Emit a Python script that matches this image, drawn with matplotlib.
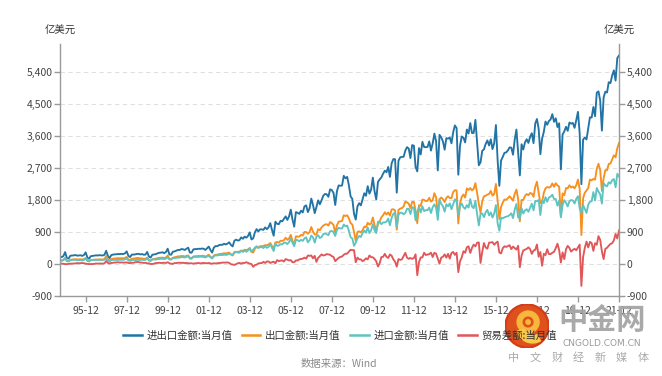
import numpy as np
import pandas as pd
import matplotlib
matplotlib.use("Agg")
import matplotlib.pyplot as plt
from matplotlib.patches import Circle, Wedge
from matplotlib.lines import Line2D

plt.rcParams['font.family'] = ['Noto Sans CJK SC', 'DejaVu Sans']

# ---- data (亿美元), monthly 1994-09 .. 2021-12 ----
start_month = "1994-09"
exports = [
    108, 102, 115, 165,
    82, 78, 120, 124, 127, 135, 130, 130, 135, 127, 138, 168,
    95, 72, 110, 113, 120, 128, 125, 130, 128, 125, 138, 226,
    130, 90, 140, 150, 155, 160, 165, 160, 165, 160, 170, 200,
    130, 110, 150, 150, 160, 170, 170, 155, 160, 145, 150, 180,
    115, 90, 130, 140, 150, 165, 175, 175, 180, 170, 185, 240,
    145, 135, 175, 190, 200, 215, 215, 225, 225, 210, 230, 240,
    170, 170, 210, 220, 220, 230, 220, 230, 230, 210, 230, 260,
    205, 165, 240, 260, 260, 280, 285, 290, 305, 295, 310, 320,
    265, 240, 315, 340, 340, 350, 380, 370, 400, 395, 410, 450,
    345, 320, 430, 480, 465, 500, 500, 510, 530, 525, 550, 590,
    505, 430, 605, 620, 600, 655, 650, 670, 740, 680, 720, 820,
    650, 550, 780, 770, 770, 820, 800, 900, 900, 850, 900, 1040,
    910, 830, 830, 980, 950, 1030, 1080, 1110, 1120, 1080, 1180, 1150,
    1100, 870, 1090, 1190, 1200, 1210, 1370, 1350, 1370, 1280, 1150, 1110,
    900, 650, 900, 920, 890, 950, 1050, 1040, 1160, 1110, 1140, 1310,
    1095, 945, 1120, 1200, 1315, 1370, 1455, 1392, 1450, 1360, 1532, 1541,
    1507, 967, 1522, 1557, 1572, 1619, 1752, 1733, 1696, 1575, 1745, 1747,
    1500, 1145, 1657, 1633, 1812, 1804, 1769, 1780, 1863, 1755, 1793, 1992,
    1873, 1393, 1821, 1871, 1827, 1743, 1860, 1906, 1856, 1853, 2022, 2077,
    2071, 1141, 1701, 1886, 1955, 1868, 2127, 2084, 2137, 2069, 2117, 2275,
    2001, 1692, 1445, 1763, 1907, 1921, 1953, 1968, 2056, 1924, 1969, 2252,
    1774, 1263, 1602, 1728, 1813, 1809, 1850, 1905, 1846, 1782, 1974, 2094,
    1827, 1201, 1803, 1800, 1912, 1968, 1937, 1998, 1982, 1890, 2173, 2314,
    2003, 1714, 1738, 2000, 2128, 2166, 2151, 2173, 2266, 2171, 2273, 2212,
    2175, 1352, 1986, 1934, 2138, 2128, 2215, 2148, 2182, 2129, 2217, 2375,
    2110, 815, 1851, 2004, 2067, 2137, 2375, 2354, 2393, 2371, 2680, 2820,
    2640, 2053, 2412, 2638, 2639, 2815, 2827, 2943, 3057, 3002, 3255, 3405,
]
imports = [
    96, 92, 108, 170,
    85, 75, 110, 115, 115, 118, 105, 110, 110, 100, 115, 160,
    90, 75, 110, 115, 115, 115, 115, 118, 115, 115, 120, 145,
    100, 75, 110, 115, 115, 115, 115, 120, 120, 120, 130, 155,
    100, 85, 115, 115, 110, 115, 115, 115, 120, 115, 115, 160,
    95, 90, 130, 130, 125, 135, 140, 145, 150, 135, 155, 190,
    125, 125, 170, 165, 175, 180, 180, 195, 190, 185, 200, 220,
    150, 150, 200, 200, 200, 200, 205, 205, 200, 185, 210, 230,
    190, 155, 220, 245, 240, 250, 255, 250, 265, 255, 265, 290,
    270, 255, 340, 345, 320, 320, 370, 340, 370, 345, 380, 440,
    345, 400, 460, 500, 450, 475, 475, 450, 500, 455, 480, 560,
    455, 365, 585, 510, 520, 560, 550, 600, 600, 560, 620, 710,
    600, 500, 680, 670, 640, 680, 650, 720, 750, 610, 670, 800,
    750, 600, 770, 810, 730, 760, 840, 860, 840, 810, 920, 930,
    900, 790, 960, 1020, 1000, 1000, 1110, 1060, 1080, 930, 750, 720,
    510, 600, 720, 790, 760, 870, 940, 880, 1030, 870, 950, 1120,
    950, 870, 1190, 1180, 1120, 1170, 1170, 1190, 1280, 1090, 1300, 1410,
    1442, 1040, 1382, 1443, 1441, 1397, 1437, 1555, 1551, 1405, 1600, 1582,
    1228, 1460, 1604, 1449, 1624, 1487, 1517, 1513, 1586, 1435, 1597, 1676,
    1581, 1240, 1812, 1690, 1624, 1472, 1681, 1620, 1704, 1542, 1684, 1821,
    1753, 1371, 1624, 1702, 1596, 1552, 1656, 1586, 1827, 1615, 1571, 1780,
    1401, 1085, 1415, 1422, 1317, 1456, 1523, 1366, 1452, 1308, 1428, 1658,
    1144, 937, 1306, 1285, 1314, 1329, 1346, 1376, 1427, 1292, 1528, 1688,
    1313, 1292, 1566, 1420, 1509, 1542, 1469, 1580, 1697, 1510, 1776, 1765,
    1800, 1376, 1787, 1713, 1879, 1751, 1871, 1895, 1949, 1828, 1826, 1641,
    1784, 1311, 1660, 1796, 1722, 1618, 1764, 1800, 1786, 1701, 1830, 1907,
    1565, 1430, 1653, 1550, 1437, 1671, 1752, 1765, 2023, 1786, 2139, 2036,
    1960, 1700, 2274, 2210, 2184, 2300, 2261, 2360, 2390, 2157, 2538, 2460,
]
series_names = ["进出口金额:当月值", "出口金额:当月值", "进口金额:当月值", "贸易差额:当月值"]
series_colors = ["#2274a5", "#f7901e", "#5ec4c1", "#e15759"]
tick_labels = ["95-12", "97-12", "99-12", "01-12", "03-12", "05-12", "07-12",
               "09-12", "11-12", "13-12", "15-12", "17-12", "19-12", "21-12"]
y_ticks = [-900, 0, 900, 1800, 2700, 3600, 4500, 5400]
unit = "亿美元"
source = "数据来源：Wind"
wm_title = "中金网"
wm_url = "CNGOLD.COM.CN"
wm_slogan = ["中", "文", "财", "经", "新", "媒", "体"]

exp_arr = np.array(exports, dtype=float)
imp_arr = np.array(imports, dtype=float)
total = exp_arr + imp_arr          # 进出口 = 出口 + 进口
balance = exp_arr - imp_arr        # 贸易差额 = 出口 - 进口
months = pd.period_range(start=start_month, periods=len(exports), freq="M")
labels_all = [f"{p.year % 100:02d}-{p.month:02d}" for p in months]
x = np.arange(len(months))
tick_pos = [labels_all.index(t) for t in tick_labels]

W, H = 662, 376
fig = plt.figure(figsize=(W / 100, H / 100), dpi=100)
ax = fig.add_axes([60 / W, 80 / H, 559 / W, 252.4 / H])

for vals, name, col in zip([total, exp_arr, imp_arr, balance], series_names, series_colors):
    ax.plot(x, vals, color=col, lw=1.35, label=name, solid_joinstyle="round")

ax.set_xlim(0, len(x) - 1)
ax.set_ylim(-900, 6200)
ax.set_yticks(y_ticks)
ax.set_yticklabels([f"{v:,}" for v in y_ticks])
ax.set_xticks(tick_pos)
ax.set_xticklabels(tick_labels)

ax.grid(axis="y", color="#e0e0e0", linestyle=(0, (4, 3)), lw=0.8)
ax.set_axisbelow(True)
for s in ["left", "right", "bottom"]:
    ax.spines[s].set_color("#9a9a9a")
    ax.spines[s].set_linewidth(1.0)
ax.spines["top"].set_visible(False)

ax.yaxis.set_ticks_position("both")
ax.tick_params(axis="y", which="both", direction="out", length=4, width=1,
               color="#9a9a9a", labelleft=True, labelright=True,
               labelsize=7.5, labelcolor="#444444", pad=1.5)
ax.tick_params(axis="x", direction="out", length=4, width=1, color="#9a9a9a",
               labelsize=7.5, labelcolor="#444444", pad=3)

fig.text(60 / W, 1 - 31 / H, unit, ha="center", va="center", fontsize=7.5, color="#333333")
fig.text(619 / W, 1 - 31 / H, unit, ha="center", va="center", fontsize=7.5, color="#333333")

handles = [Line2D([0], [0], color=c, lw=1.8) for c in series_colors]
fig.legend(handles, series_names, loc="center", bbox_to_anchor=(340 / W, 1 - 336 / H),
           ncol=4, frameon=False, fontsize=7.5, handlelength=1.8, handletextpad=0.45,
           columnspacing=0.9, labelcolor="#333333")

fig.text(339 / W, 1 - 364 / H, source, ha="center", va="center", fontsize=7.5, color="#8a8a8a")

# watermark logo
lax = fig.add_axes([505 / W, 1 - 348 / H, 44 / W, 44 / H])
lax.set_xlim(-1, 1)
lax.set_ylim(-1, 1)
lax.set_aspect("equal")
lax.axis("off")
lax.add_patch(Circle((0, 0), 1.0, color="#d33c1a", zorder=1))
lax.add_patch(Circle((0, 0), 0.9, color="#e0501d", zorder=1))
lax.add_patch(Circle((0.05, 0.18), 0.5, color="#f6b73c", zorder=2))
lax.add_patch(Circle((0.05, 0.18), 0.22, color="#e0501d", zorder=3))
lax.add_patch(Circle((0.05, 0.18), 0.1, color="#f6b73c", zorder=4))
lax.add_patch(Wedge((0.25, -0.05), 0.72, 195, 300, width=0.32, color="#f8c94a", zorder=2))

fig.text(602 / W, 1 - 320 / H, wm_title, ha="center", va="center", fontsize=21,
         fontweight="bold", color="#a5a5a5", alpha=0.95)
fig.text(602 / W, 1 - 343 / H, wm_url, ha="center", va="center",
         fontsize=6.5, color="#9a9a9a", family=["DejaVu Sans"])
for i, ch in enumerate(wm_slogan):
    fig.text((514 + i * 21.5) / W, 1 - 358 / H, ch, ha="center", va="center",
             fontsize=8, color="#aaaaaa")

fig.savefig("out.png", dpi=100)
